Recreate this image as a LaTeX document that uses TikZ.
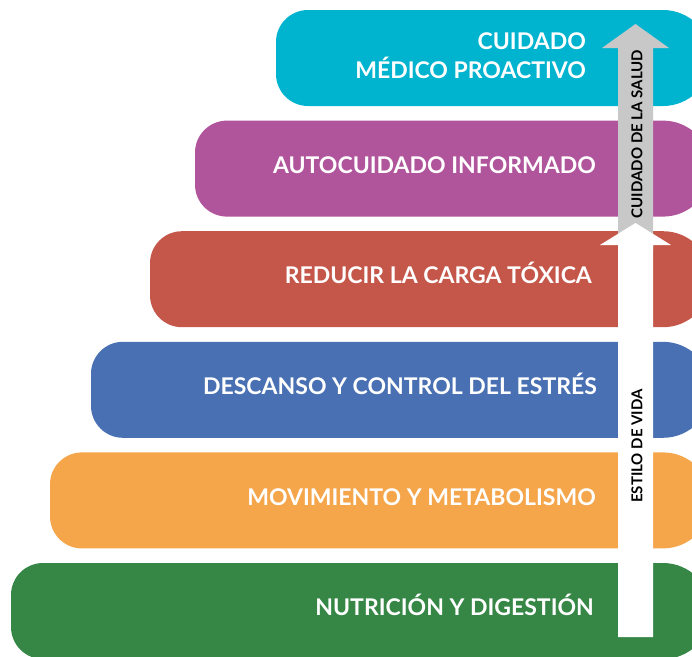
\documentclass[tikz,border=0pt]{standalone}
\usepackage{fontspec}
\setmainfont{Lato}
\usepackage{xcolor}

\definecolor{cianN}{RGB}{0,180,208}
\definecolor{moradoN}{RGB}{176,85,155}
\definecolor{rojoN}{RGB}{196,87,74}
\definecolor{azulN}{RGB}{72,112,178}
\definecolor{naranjaN}{RGB}{245,165,74}
\definecolor{verdeN}{RGB}{54,135,69}
\definecolor{grisF}{RGB}{200,200,200}

\tikzset{
  etiqueta/.style={text=white, font=\bfseries\fontsize{23}{29}\selectfont, anchor=base east, align=right, inner sep=0pt},
  textoflecha/.style={text=black, font=\bfseries\fontsize{15}{15}\selectfont, rotate=90, inner sep=0pt}
}

% one level of the pyramid: left x, top y, colour
\newcommand{\nivel}[3]{%
  \fill[#3] (#1+32,#2) -- (663,#2) arc[start angle=-90,end angle=90,radius=48]
    -- (#1+32,#2+96) arc[start angle=90,end angle=180,radius=32]
    -- (#1,#2+32) arc[start angle=180,end angle=270,radius=32] -- cycle;}

\begin{document}
\begin{tikzpicture}[x=1pt,y=1pt,yscale=-1,xscale=1]
\useasboundingbox (0,0) rectangle (692,656);
\clip (0,0) rectangle (692,656);

%Shape: levels
\nivel{276}{10}{cianN}
\nivel{195}{120.6}{moradoN}
\nivel{150}{231.2}{rojoN}
\nivel{91}{341.8}{azulN}
\nivel{50}{452.4}{naranjaN}
\nivel{11}{563}{verdeN}

%Shape: grey arrow
\fill[grisF] (618,250) -- (618,48) -- (602,48) -- (635.5,24) -- (669,48) -- (653,48) -- (653,250) -- cycle;
%Shape: white arrow
\fill[white] (618,637) -- (618,245) -- (600,245) -- (635.5,223) -- (671,245) -- (653,245) -- (653,637) -- cycle;

% Text Node
\node[etiqueta] (medico) at (586,78) {CUIDADO\\MÉDICO PROACTIVO};
% Text Node
\node[etiqueta] (autocuidado) at (596,173.3) {AUTOCUIDADO INFORMADO};
% Text Node
\node[etiqueta] (toxica) at (592,283.9) {REDUCIR LA CARGA TÓXICA};
% Text Node
\node[etiqueta] (descanso) at (597,394.5) {DESCANSO Y CONTROL DEL ESTRÉS};
% Text Node
\node[etiqueta] (movimiento) at (596,505.1) {MOVIMIENTO Y METABOLISMO};
% Text Node
\node[etiqueta] (nutricion) at (594,615.7) {NUTRICIÓN Y DIGESTIÓN};

% Text Node
\node[textoflecha] (salud) at (637,134) {CUIDADO DE LA SALUD};
% Text Node
\node[textoflecha] (vida) at (637,446) {ESTILO DE VIDA};

\end{tikzpicture}
\end{document}
